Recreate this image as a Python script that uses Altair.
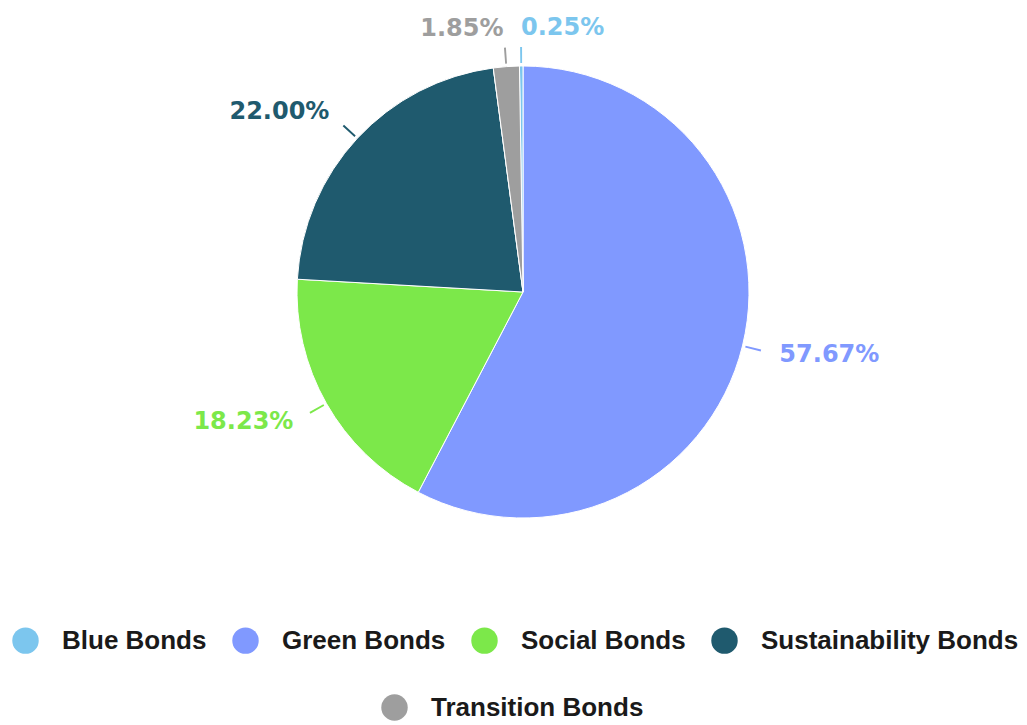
import math
import altair as alt
import pandas as pd

# ---- data (legend order) ----
names = ["Blue Bonds", "Green Bonds", "Social Bonds", "Sustainability Bonds", "Transition Bonds"]
values = [0.25, 57.67, 18.23, 22.00, 1.85]
colors = ["#7cc6ee", "#8099ff", "#7ce84a", "#1f5a6e", "#9e9e9e"]
# drawing order, clockwise from 12 o'clock
slice_order = ["Green Bonds", "Social Bonds", "Sustainability Bonds", "Transition Bonds", "Blue Bonds"]
right_side = ["Green Bonds", "Blue Bonds"]

# ---- derived table ----
total = sum(values)
val = dict(zip(names, values))
rows = []
acc = 0.0
for n in slice_order:
    start = acc / total * 2 * math.pi
    acc += val[n]
    end = acc / total * 2 * math.pi
    mid = (start + end) / 2
    rows.append({"name": n, "value": val[n], "start": start, "end": end, "mid": mid,
                 "t1": mid - 0.004, "t2": mid + 0.004})
df = pd.DataFrame(rows)

CX, CY, R = 523, 292, 226
LABEL_R = 264

color_scale = alt.Scale(domain=names, range=colors)
base = alt.Chart(df)

legend_common = dict(
    orient="none", direction="horizontal", title=None, symbolType="circle",
    symbolSize=700, symbolStrokeWidth=0, labelFont="Liberation Sans", labelFontSize=26,
    labelFontWeight="bold", labelColor="#1a1a1a", labelOffset=23, columnPadding=25,
    padding=0, symbolOpacity=1, labelLimit=400,
)

pie = base.mark_arc(stroke="white", strokeWidth=1).encode(
    theta=alt.Theta("start:Q", scale=None, stack=False),
    theta2="end:Q",
    radius=alt.value(R),
    x=alt.value(CX), y=alt.value(CY),
    color=alt.Color("name:N", scale=color_scale,
                    legend=alt.Legend(values=names[:4], legendX=12, legendY=627, **legend_common)),
)

pie2 = base.transform_filter(
    alt.FieldEqualPredicate(field="name", equal=names[4])
).mark_arc(stroke="white", strokeWidth=1).encode(
    theta=alt.Theta("start:Q", scale=None, stack=False),
    theta2="end:Q",
    radius=alt.value(R),
    x=alt.value(CX), y=alt.value(CY),
    color=alt.Color("name:N", scale=alt.Scale(domain=[names[4]], range=[colors[4]]),
                    legend=alt.Legend(legendX=381, legendY=694, **legend_common)),
)

ticks = base.mark_arc().encode(
    theta=alt.Theta("t1:Q", scale=None, stack=False),
    theta2="t2:Q",
    radius=alt.value(R + 3), radius2=alt.value(R + 19),
    x=alt.value(CX), y=alt.value(CY),
    color=alt.Color("name:N", scale=color_scale, legend=None),
)

def labels(side_names, align):
    return base.transform_filter(
        alt.FieldOneOfPredicate(field="name", oneOf=side_names)
    ).transform_calculate(
        lab="format(datum.value, '.2f') + '%'"
    ).mark_text(
        align=align, baseline="middle", font="DejaVu Sans", fontSize=24, fontWeight="bold"
    ).encode(
        theta=alt.Theta("mid:Q", scale=None, stack=False),
        radius=alt.value(LABEL_R),
        x=alt.value(CX), y=alt.value(CY),
        text="lab:N",
        color=alt.Color("name:N", scale=color_scale, legend=None),
    )

left_names = [n for n in names if n not in right_side]

chart = alt.layer(
    pie, pie2, ticks, labels(right_side, "left"), labels(left_names, "right")
).resolve_scale(color="independent").properties(
    width=1027, height=725, autosize=alt.AutoSizeParams(type="none"), padding=0,
    background="white",
).configure_view(stroke=None)

chart.save("out.html", embed_options={"renderer": "svg", "actions": False})
